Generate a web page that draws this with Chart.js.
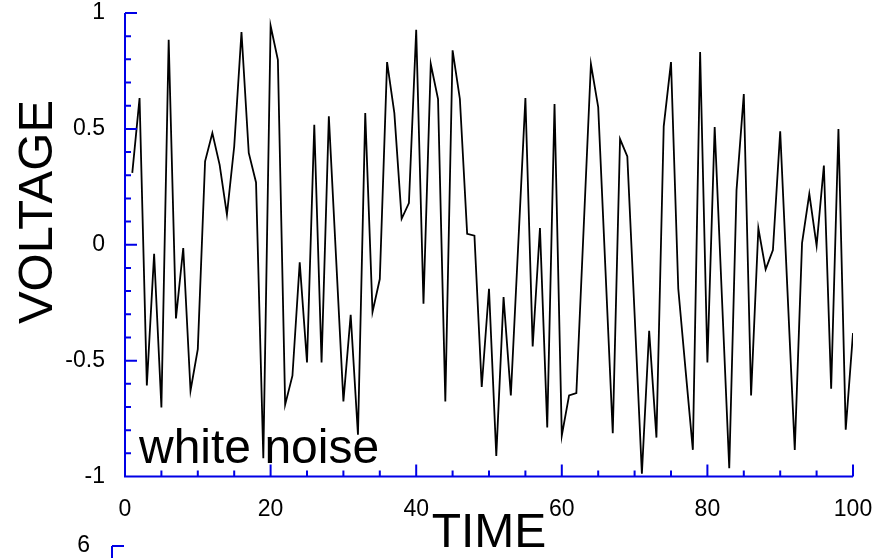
<!DOCTYPE html>
<html>
<head>
<meta charset="utf-8">
<title>white noise</title>
<script src="https://cdn.jsdelivr.net/npm/chart.js@4.4.1/dist/chart.umd.min.js"></script>
<style>
  html, body { margin: 0; padding: 0; background: #fff; overflow: hidden; }
  #wrap { position: relative; width: 875px; height: 558px; overflow: hidden; }
  #noiseChart { position: absolute; left: 0; top: 0; }
  #nextChart { position: absolute; left: 0; top: 533px; }
</style>
</head>
<body>
<div id="wrap">
  <canvas id="nextChart" width="875" height="300"></canvas>
  <canvas id="noiseChart" width="875" height="558"></canvas>
</div>
<script>
// sample index (TIME)
var time = [
  1, 2, 3, 4, 5, 6, 7, 8, 9, 10, 11, 12, 13, 14, 15, 16, 17, 18, 19, 20,
  21, 22, 23, 24, 25, 26, 27, 28, 29, 30, 31, 32, 33, 34, 35, 36, 37, 38, 39, 40,
  41, 42, 43, 44, 45, 46, 47, 48, 49, 50, 51, 52, 53, 54, 55, 56, 57, 58, 59, 60,
  61, 62, 63, 64, 65, 66, 67, 68, 69, 70, 71, 72, 73, 74, 75, 76, 77, 78, 79, 80,
  81, 82, 83, 84, 85, 86, 87, 88, 89, 90, 91, 92, 93, 94, 95, 96, 97, 98, 99, 100
];

// white noise samples (VOLTAGE)
var voltage = [
  0.31, 0.633, -0.607, -0.039, -0.702, 0.885, -0.318, -0.014, -0.63, -0.45,
  0.36, 0.482, 0.345, 0.13, 0.424, 0.918, 0.396, 0.269, -0.921, 0.945,
  0.798, -0.69, -0.565, -0.076, -0.508, 0.518, -0.508, 0.554, -0.06, -0.676,
  -0.302, -0.82, 0.568, -0.29, -0.148, 0.788, 0.568, 0.112, 0.18, 0.928,
  -0.255, 0.78, 0.629, -0.676, 0.839, 0.629, 0.047, 0.039, -0.614, -0.19,
  -0.911, -0.226, -0.65, -0.01, 0.633, -0.439, 0.072, -0.788, 0.607, -0.823,
  -0.65, -0.64, 0.07, 0.78, 0.594, -0.11, -0.813, 0.456, 0.381, -0.3,
  -0.988, -0.371, -0.832, 0.511, 0.788, -0.19, -0.54, -0.885, 0.832, -0.508,
  0.508, -0.23, -0.964, 0.235, 0.65, -0.65, 0.071, -0.106, -0.023, 0.49,
  -0.2, -0.885, 0.007, 0.22, -0.004, 0.342, -0.621, 0.499, -0.798, -0.381
];

var timeTicks = [0, 20, 40, 60, 80, 100];
var voltageTicks = [-1, -0.5, 0, 0.5, 1];
// only the top of the next panel shows
var nextTicks = [6];

var AXIS_BLUE = '#0000e6';
Chart.defaults.font.family = '"Liberation Sans", Arial, sans-serif';
Chart.defaults.color = '#000';

function minorValues(min, max, step) {
  var out = [];
  for (var v = min; v <= max + step / 2; v += step) out.push(Math.round(v * 1000) / 1000);
  return out;
}

// fixed axis box size, and no extra room for the end labels
function fixSize(size) {
  return function (s) {
    if (s.isHorizontal()) s.height = size; else s.width = size;
    s.paddingTop = s.paddingBottom = s.paddingLeft = s.paddingRight = 0;
  };
}

// blue axes with inward ticks, drawn from the chart's own scales
var axisLines = {
  id: 'axisLines',
  afterDatasetsDraw: function (chart, args, opts) {
    var ctx = chart.ctx, a = chart.chartArea;
    var xs = chart.scales.x, ys = chart.scales.y;
    ctx.save();
    ctx.strokeStyle = AXIS_BLUE;
    ctx.lineWidth = 2;
    ctx.beginPath();
    ctx.moveTo(a.left, a.top);
    ctx.lineTo(a.left, a.bottom);
    ctx.lineTo(a.right, a.bottom);
    minorValues(ys.min, ys.max, opts.yMinor).forEach(function (v) {
      var p = ys.getPixelForValue(v);
      var major = ys.ticks.some(function (t) { return Math.abs(t.value - v) < 1e-6; });
      ctx.moveTo(a.left, p);
      ctx.lineTo(a.left + (major ? 12 : 6), p);
    });
    minorValues(xs.min, xs.max, opts.xMinor).forEach(function (v) {
      var p = xs.getPixelForValue(v);
      var major = xs.ticks.some(function (t) { return Math.abs(t.value - v) < 1e-6; });
      ctx.moveTo(p, a.bottom);
      ctx.lineTo(p, a.bottom - (major ? 12 : 6));
    });
    ctx.stroke();
    ctx.restore();
  }
};

// free text: y axis title and the panel label
var panelText = {
  id: 'panelText',
  afterDraw: function (chart, args, opts) {
    if (!opts.show) return;
    var ctx = chart.ctx;
    ctx.save();
    ctx.fillStyle = '#000';
    ctx.font = '48px "Liberation Sans", Arial, sans-serif';
    ctx.textBaseline = 'alphabetic';
    ctx.textAlign = 'left';
    ctx.fillText('white noise', 139, 463);
    ctx.translate(51.5, 212);
    ctx.rotate(-Math.PI / 2);
    ctx.textAlign = 'center';
    ctx.font = '49px "Liberation Sans", Arial, sans-serif';
    ctx.fillText('VOLTAGE', 0, 0);
    ctx.restore();
  }
};

function plainLabel(v) { return String(v); }

var points = time.map(function (t, i) { return { x: t, y: voltage[i] }; });

new Chart(document.getElementById('noiseChart'), {
  type: 'line',
  data: {
    datasets: [{
      label: 'white noise',
      data: points,
      borderColor: '#000',
      borderWidth: 1.8,
      pointRadius: 0,
      tension: 0,
      fill: false
    }]
  },
  options: {
    responsive: false,
    animation: false,
    devicePixelRatio: 1,
    layout: { padding: { top: 13, right: 22, bottom: 0, left: 0 } },
    plugins: {
      legend: { display: false },
      tooltip: { enabled: false },
      axisLines: { xMinor: 5, yMinor: 0.1 },
      panelText: { show: true }
    },
    scales: {
      x: {
        type: 'linear',
        min: 0,
        max: 100,
        grid: { display: false, drawTicks: false },
        border: { display: false },
        afterBuildTicks: function (s) { s.ticks = timeTicks.map(function (v) { return { value: v }; }); },
        afterFit: fixSize(81.5),
        ticks: { padding: 19, autoSkip: false, maxRotation: 0, font: { size: 23 }, callback: plainLabel },
        title: { display: true, text: 'TIME', padding: 0, font: { size: 48, lineHeight: 1 } }
      },
      y: {
        min: -1,
        max: 1,
        grid: { display: false, drawTicks: false },
        border: { display: false },
        afterBuildTicks: function (s) { s.ticks = voltageTicks.map(function (v) { return { value: v }; }); },
        afterFit: fixSize(125),
        ticks: { padding: 20, font: { size: 23 }, callback: plainLabel }
      }
    }
  },
  plugins: [axisLines, panelText]
});

// the next panel below, cut off by the window
new Chart(document.getElementById('nextChart'), {
  type: 'line',
  data: { datasets: [{ data: [], borderColor: '#000', pointRadius: 0 }] },
  options: {
    responsive: false,
    animation: false,
    devicePixelRatio: 1,
    layout: { padding: { top: 13, right: 22, bottom: 0, left: 0 } },
    plugins: {
      legend: { display: false },
      tooltip: { enabled: false },
      axisLines: { xMinor: 5, yMinor: 0.5 },
      panelText: { show: false }
    },
    scales: {
      x: { type: 'linear', min: 0, max: 100, display: false },
      y: {
        min: 0,
        max: 6,
        grid: { display: false, drawTicks: false },
        border: { display: false },
        afterBuildTicks: function (s) { s.ticks = nextTicks.map(function (v) { return { value: v }; }); },
        afterFit: fixSize(112),
        ticks: { padding: 22, font: { size: 23 }, callback: plainLabel }
      }
    }
  },
  plugins: [axisLines, panelText]
});
</script>
</body>
</html>
